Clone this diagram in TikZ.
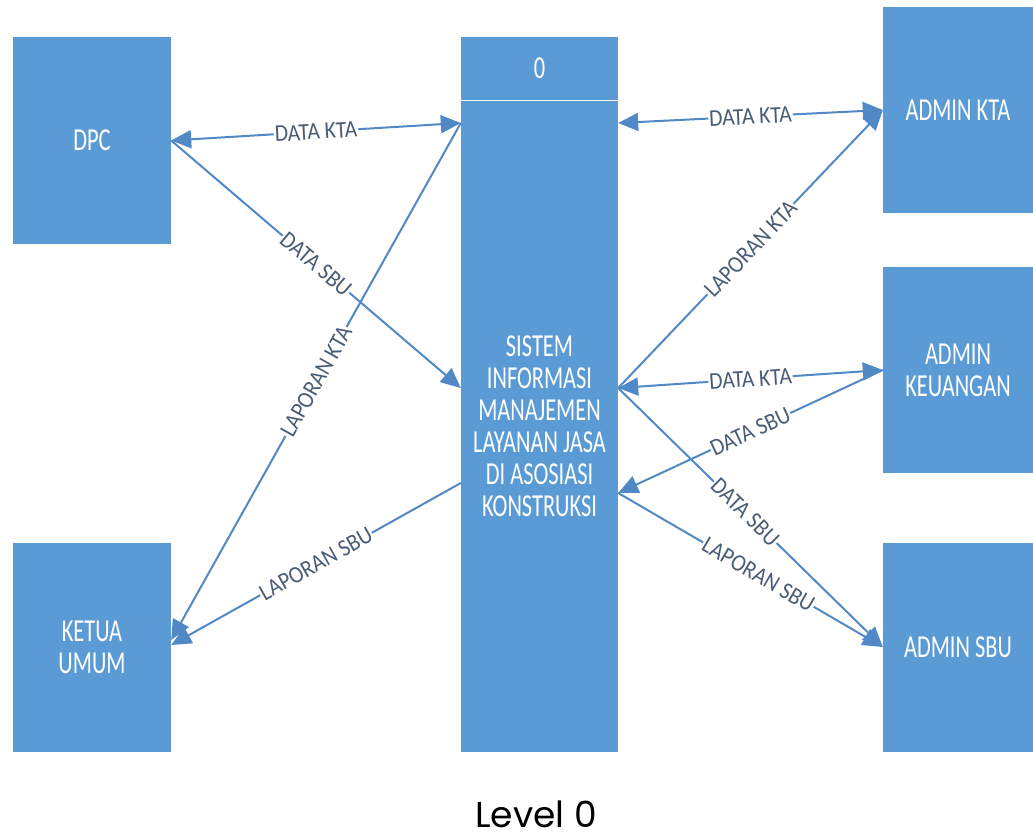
\documentclass[tikz,border=0pt]{standalone}
\usepackage{fontspec}
\setmainfont{Carlito}
\newfontfamily\kotakfont[FakeStretch=0.7]{Carlito}
\newfontfamily\ketfont[FakeStretch=0.9]{Carlito}
\newfontfamily\judulfont{Poppins}
\usepackage{tikz}
\usetikzlibrary{positioning,calc,arrows.meta}
\definecolor{biru}{HTML}{5B9BD5}
\definecolor{garis}{HTML}{5089C6}
\definecolor{teks}{HTML}{4A5D75}

\tikzset{
	entitas/.style={rectangle, fill=biru, text=white, minimum width=158pt, align=center, inner sep=0pt, font=\kotakfont\fontsize{32}{32}\selectfont},
	alur/.style={draw=garis, line width=2pt, -{Triangle[length=20pt,width=18pt]}},
	duaarah/.style={alur, {Triangle[length=20pt,width=18pt]}-{Triangle[length=20pt,width=18pt]}},
	ket/.style={sloped, fill=white, text=teks, inner sep=1pt, font=\ketfont\fontsize{24}{24}\selectfont}
}

\begin{document}
\begin{tikzpicture}[x=1pt,y=-1pt]
	\useasboundingbox (0,0) rectangle (1033,839);
	% entitas luar
	\node[entitas, minimum height=207pt] (dpc) at (92,140.5) {DPC};
	\node[entitas, minimum height=209pt] (ketua) at (92,647.5) {KETUA\\UMUM};
	\node[entitas, minimum width=150pt, minimum height=206pt] (akta) at (958,110) {ADMIN KTA};
	\node[entitas, minimum width=150pt, minimum height=206pt] (akeu) at (958,370) {ADMIN\\KEUANGAN};
	\node[entitas, minimum width=150pt, minimum height=209pt] (asbu) at (958,647.5) {ADMIN SBU};
	% proses 0
	\node[entitas, minimum width=157pt, minimum height=63pt] (nomor) at (539.5,68.5) {0};
	\node[entitas, minimum width=157pt, minimum height=652pt] (sim) at (539.5,426) {SISTEM\\INFORMASI\\MANAJEMEN\\LAYANAN JASA\\DI ASOSIASI\\KONSTRUKSI};
	\draw[white, line width=1pt] (nomor.south west) -- (nomor.south east);
	% alur data kiri
	\draw[duaarah] (dpc.east) -- node[ket]{DATA KTA} (sim.west |- 0,123);
	\draw[alur] (dpc.east) -- node[ket]{DATA SBU} (sim.west |- 0,388);
	\draw[alur] (sim.west |- 0,123) -- node[ket]{LAPORAN KTA} (ketua.east |- 0,640);
	\draw[alur] (sim.west |- 0,483) -- node[ket]{LAPORAN SBU} (ketua.east |- 0,645);
	% alur data kanan
	\draw[duaarah] (sim.east |- 0,123) -- node[ket]{DATA KTA} (akta.west |- 0,110);
	\draw[alur] (sim.east |- 0,388) -- node[ket]{LAPORAN KTA} (akta.west |- 0,110);
	\draw[duaarah] (sim.east |- 0,388) -- node[ket]{DATA KTA} (akeu.west |- 0,370);
	\draw[alur] (akeu.west |- 0,370) -- node[ket]{DATA SBU} (sim.east |- 0,493);
	\draw[alur] (sim.east |- 0,388) -- node[ket, pos=0.48]{DATA SBU} (asbu.west |- 0,647);
	\draw[alur] (sim.east |- 0,493) -- node[ket, pos=0.53]{LAPORAN SBU} (asbu.west |- 0,647);
	\node[font=\judulfont\fontsize{36}{40}\selectfont, anchor=base, inner sep=0pt] (judul) at (536,827) {Level 0};
\end{tikzpicture}
\end{document}
